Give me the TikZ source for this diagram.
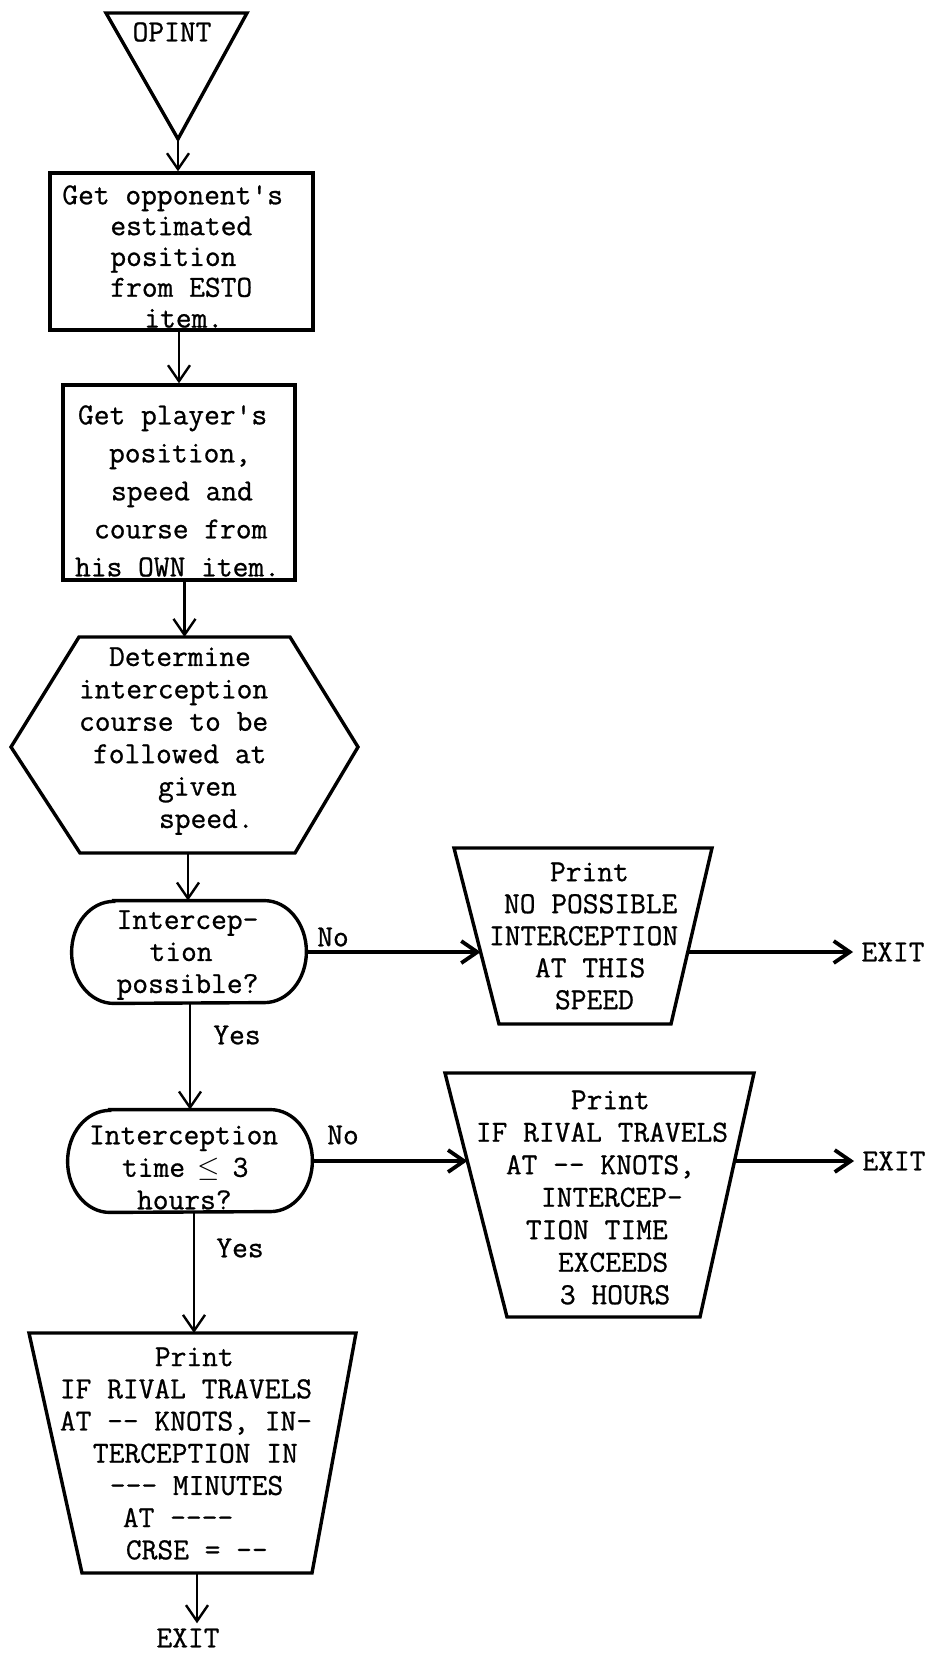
\documentclass[tikz,border=0pt]{standalone}
\usepackage{fontspec}
\setmonofont{Latin Modern Mono}[FakeBold=0.8]
\usetikzlibrary{arrows.meta}

% typewriter text at a given line spacing
\newcommand\tw[1]{\ttfamily\fontsize{15.3}{#1}\selectfont}
% horizontal indent given in drawing units (1 unit = 0.5pt)
\newcommand\ind[1]{\hspace*{\dimexpr #1pt/2\relax}}

\begin{document}
\begin{tikzpicture}[x=0.5pt,y=-0.5pt,
  outline/.style={line width=1.7pt, line join=miter},
  txt/.style={inner sep=0pt, align=left, font=\tw{16pt}},
  lbl/.style={inner sep=0pt, font=\tw{16pt}},
  exitlbl/.style={inner sep=4pt, font=\tw{16pt}},
  boxnode/.style={draw, outline, inner sep=0pt},
  arr/.style={line width=1.2pt, -{Straight Barb[length=8pt,width=11pt]}},
  harr/.style={line width=1.9pt, -{Straight Barb[length=8pt,width=11pt]}},
]
\fill[white] (0,0) rectangle (929,1656);
\useasboundingbox (0,0) rectangle (929,1656);

% entry point
\coordinate (ta) at (106,13);
\coordinate (tb) at (247,13);
\coordinate (tc) at (178,139);
\draw[outline] (ta) -- (tb) -- (tc) -- cycle;
\node[lbl] (opint) at (172,32) {OPINT};

% first process box
\node[boxnode, minimum width=131.5pt, minimum height=78.5pt] (b1) at (181.5,251.5) {};
\node[txt, font=\tw{15.4pt}] (b1t) at (172.7,256.5)
  {Get opponent's\\\ind{48}estimated\\\ind{48}position\\\ind{48}from ESTO\\\ind{82}item.};

% second process box
\node[boxnode, minimum width=116pt, minimum height=97.5pt] (b2) at (179,482.5) {};
\node[txt, font=\tw{19pt}] (b2t) at (177.5,491)
  {\ind{3}Get player's\\\ind{34}position,\\\ind{36}speed and\\\ind{19}course from\\his OWN item.};

% preparation hexagon
\coordinate (h1) at (79,637);
\coordinate (h2) at (290,637);
\coordinate (h3) at (358,747);
\coordinate (h4) at (295,853);
\coordinate (h5) at (80,853);
\coordinate (h6) at (11,747);
\draw[outline] (h1) -- (h2) -- (h3) -- (h4) -- (h5) -- (h6) -- cycle;
\node[txt, font=\tw{16.2pt}] (hx) at (173.6,741)
  {\ind{30}Determine\\interception\\course to be\\\ind{14}followed at\\\ind{79}given\\\ind{80}speed.};
\coordinate (hn) at (184.5,637);
\coordinate (hs) at (188,853);

% first decision
\node[minimum width=117pt, minimum height=51pt, inner sep=0pt] (d1) at (189,952) {};
\draw[outline] ([xshift=21pt]d1.north west) -- ([xshift=-21pt]d1.north east)
  arc[start angle=90, end angle=-90, x radius=21pt, y radius=25.5pt]
  -- ([xshift=21pt]d1.south west)
  arc[start angle=270, end angle=90, x radius=21pt, y radius=25.5pt] -- cycle;
\node[txt] (d1t) at (187.5,955) {Intercep-\\\ind{33}tion\\possible?};

% second decision
\node[minimum width=122pt, minimum height=51pt, inner sep=0pt] (d2) at (190,1161) {};
\draw[outline] ([xshift=21pt]d2.north west) -- ([xshift=-21pt]d2.north east)
  arc[start angle=90, end angle=-90, x radius=21pt, y radius=25.5pt]
  -- ([xshift=21pt]d2.south west)
  arc[start angle=270, end angle=90, x radius=21pt, y radius=25.5pt] -- cycle;
\node[txt, font=\tw{16.25pt}] (d2t) at (183.6,1167.5)
  {Interception\\\ind{33}time \makebox[8.03pt]{$\leq$} 3\\\ind{48}hours?};

% output: no interception
\coordinate (p1a) at (454,848);
\coordinate (p1b) at (712,848);
\coordinate (p1c) at (671,1024);
\coordinate (p1d) at (499,1024);
\draw[outline] (p1a) -- (p1b) -- (p1c) -- (p1d) -- cycle;
\node[txt] (p1) at (583.6,936)
  {\ind{61}Print\\\ind{15}NO POSSIBLE\\INTERCEPTION\\\ind{46}AT THIS\\\ind{66}SPEED};

% output: interception too late
\coordinate (p2a) at (445,1073);
\coordinate (p2b) at (754,1073);
\coordinate (p2c) at (700,1317);
\coordinate (p2d) at (507,1317);
\draw[outline] (p2a) -- (p2b) -- (p2c) -- (p2d) -- cycle;
\node[txt, font=\tw{16.25pt}] (p2) at (602,1197.5)
  {\ind{95}Print\\IF RIVAL TRAVELS\\\ind{30}AT -- KNOTS,\\\ind{65}INTERCEP-\\\ind{50}TION TIME\\\ind{82}EXCEEDS\\\ind{84}3 HOURS};

% output: interception result
\coordinate (p3a) at (29,1333);
\coordinate (p3b) at (356,1333);
\coordinate (p3c) at (312,1573);
\coordinate (p3d) at (82,1573);
\draw[outline] (p3a) -- (p3b) -- (p3c) -- (p3d) -- cycle;
\node[txt, font=\tw{16.1pt}] (p3) at (186,1453.5)
  {\ind{95}Print\\IF RIVAL TRAVELS\\AT -- KNOTS, IN-\\\ind{33}TERCEPTION IN\\\ind{50}--- MINUTES\\\ind{63}AT ----\\\ind{66}CRSE = --};
\coordinate (p3n) at (194,1333);
\coordinate (p3s) at (197,1573);

% exits
\node[exitlbl] (x1) at (893,952) {EXIT};
\node[exitlbl] (x2) at (894,1161) {EXIT};
\node[lbl, inner sep=2.5pt] (x3) at (188,1638) {EXIT};

% branch labels
\node[lbl] (no1) at (333,937) {No};
\node[lbl] (no2) at (343,1135) {No};
\node[lbl] (yes1) at (237,1035) {Yes};
\node[lbl] (yes2) at (240,1248) {Yes};

% main flow
\draw[arr] (tc) -- (tc |- b1.north);
\draw[arr] (b1.south -| b2.north) -- (b2.north);
\draw[arr] (b2.south -| hn) -- (hn);
\draw[arr] (hs) -- (hs |- d1.north);
\draw[arr] (d1.south -| d2.north) -- (d2.north);
\draw[arr] (d2.south -| p3n) -- (p3n);
\draw[arr] (p3s) -- (p3s |- x3.north);

% side branches
\coordinate (e1) at (d1.east -| x1.west);
\coordinate (e2) at (d2.east -| x2.west);
\draw[harr] (d1.east) -- (intersection of d1.east--e1 and p1a--p1d);
\draw[harr] (intersection of d1.east--e1 and p1b--p1c) -- (x1.west);
\draw[harr] (d2.east) -- (intersection of d2.east--e2 and p2a--p2d);
\draw[harr] (intersection of d2.east--e2 and p2b--p2c) -- (x2.west);
\end{tikzpicture}
\end{document}
